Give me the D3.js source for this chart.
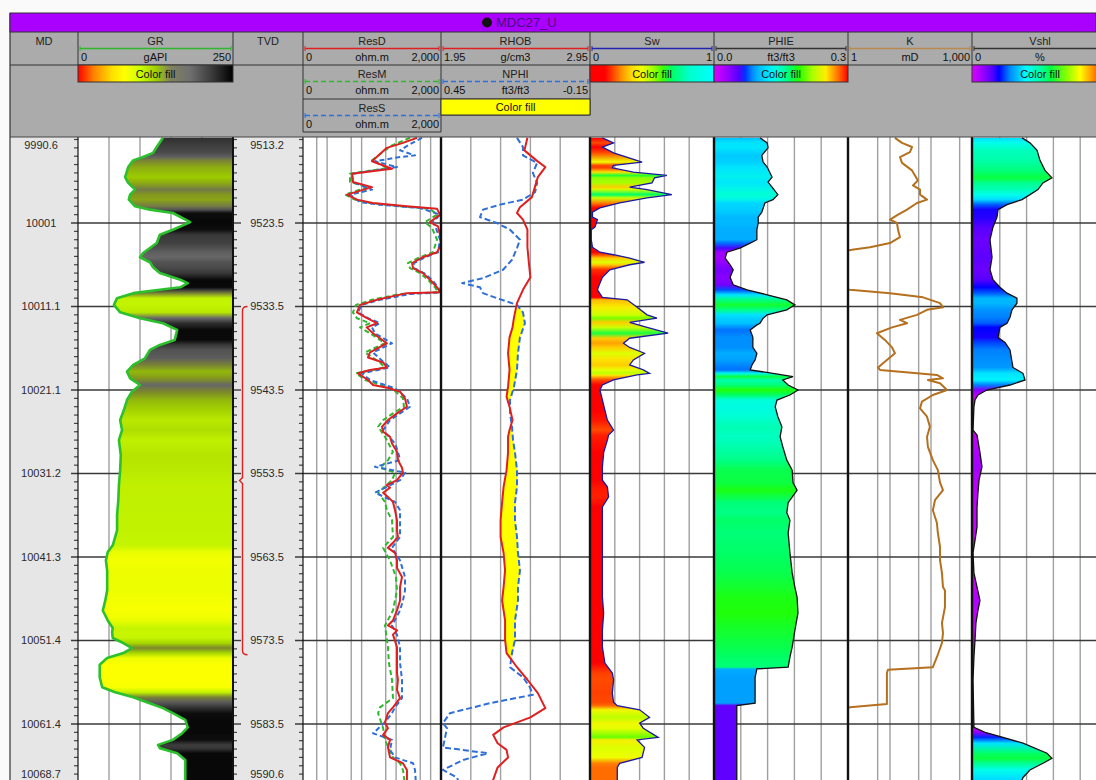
<!DOCTYPE html>
<html><head><meta charset="utf-8">
<script src="https://cdn.jsdelivr.net/npm/d3@7"></script>
<style>
html,body{margin:0;padding:0;background:#fff;}
svg{display:block;font-family:"Liberation Sans",Arial,sans-serif;}
</style></head><body>
<svg id="log" width="1096" height="780"></svg>
<script>
// ---------- well & depth reference ----------
const wellName = "MDC27_U";
const tvdTop = 9513.2, tvdBottom = 9590.6;
const tvdLabels = ["9513.2","9523.5","9533.5","9543.5","9553.5","9563.5","9573.5","9583.5","9590.6"];
const mdLabels  = ["9990.6","10001","10011.1","10021.1","10031.2","10041.3","10051.4","10061.4","10068.7"];
const zoneTop = 9533.5, zoneBottom = 9575.2;

// ---------- curves: [TVD ft, value] ----------
const grCurve = [[9513.3,137],[9514.4,127],[9515.1,121],[9515.6,105],[9516.0,89],[9516.8,81],[9518.0,76],[9518.7,81],[9519.5,92],[9520.1,84],[9520.7,82],[9521.5,92],[9521.9,116],[9522.3,153],[9523.4,181],[9524.3,153],[9524.9,132],[9525.9,127],[9527.1,105],[9527.6,100],[9528.2,116],[9528.8,121],[9529.5,132],[9530.3,165],[9530.7,177],[9531.2,165],[9531.5,132],[9531.9,89],[9532.5,63],[9533.3,58],[9534.2,68],[9534.9,100],[9535.5,137],[9536.3,160],[9537.5,156],[9538.1,132],[9538.7,116],[9539.7,108],[9540.5,89],[9541.3,79],[9542.1,84],[9542.9,100],[9543.7,87],[9544.7,79],[9545.9,74],[9547.1,68],[9548.3,71],[9549.5,66],[9551.3,69],[9553.1,68],[9554.9,66],[9556.7,65],[9558.5,63],[9560.3,63],[9562.1,56],[9562.9,48],[9563.9,45],[9565.1,47],[9566.3,47],[9567.5,47],[9568.7,44],[9569.9,40],[9571.1,48],[9572.0,56],[9572.5,55],[9573.2,56],[9573.8,73],[9574.4,87],[9575.0,73],[9575.6,47],[9576.4,35],[9577.9,35],[9579.1,39],[9579.7,60],[9580.3,89],[9580.9,111],[9581.6,137],[9582.2,153],[9583.0,173],[9583.9,177],[9584.6,168],[9585.4,153],[9586.0,129],[9586.4,132],[9587.0,160],[9587.8,173],[9589.0,173],[9590.8,173]];

const resDCurve = [[9513.3,403],[9513.9,158],[9514.5,54],[9516.1,20],[9517.0,76],[9517.6,5.3],[9518.6,5.6],[9519.2,20],[9520.1,3.8],[9520.7,7.3],[9521.1,21],[9521.5,206],[9521.8,1530],[9522.5,1870],[9523.4,960],[9523.9,1640],[9524.9,1870],[9526.1,2000],[9527.0,1530],[9527.6,600],[9528.3,290],[9528.9,310],[9529.5,600],[9530.3,960],[9531.2,1530],[9531.8,1870],[9531.9,206],[9532.7,28],[9533.3,9.0],[9534.2,7.3],[9534.9,14.3],[9535.5,28],[9536.0,14],[9536.7,21.4],[9537.9,54],[9539.0,17.5],[9539.6,15.3],[9540.2,42],[9540.8,54],[9541.1,17.5],[9541.5,7.8],[9542.3,15.3],[9542.9,21.4],[9543.3,66.5],[9543.7,130],[9544.5,181],[9545.5,206],[9546.3,106],[9547.1,58],[9547.9,39],[9548.5,42],[9549.1,66.5],[9549.9,76],[9550.9,106],[9551.9,113],[9552.8,148],[9553.4,158],[9554.3,106],[9554.9,54],[9555.2,66.5],[9555.8,42],[9556.3,58],[9556.9,81],[9557.9,93],[9559.1,106],[9560.3,106],[9561.1,113],[9561.8,81],[9562.4,58],[9563.0,93],[9563.9,106],[9564.8,106],[9565.9,148],[9567.1,130],[9568.7,130],[9569.9,106],[9571.1,81],[9571.7,58],[9572.3,106],[9572.8,81],[9574.3,106],[9576.2,106],[9577.4,106],[9578.2,113],[9579.4,106],[9580.4,130],[9581.5,81],[9582.2,58],[9583.3,47.6],[9584.0,58],[9584.8,42],[9585.4,66.5],[9586.3,58],[9587.5,66.5],[9588.2,158],[9589.0,206],[9590.8,206]];

const resMCurve = [[9513.3,253],[9514.2,76],[9514.8,47.6],[9516.0,20],[9516.9,58],[9517.6,4.6],[9518.6,4.6],[9519.2,15.3],[9520.1,3.3],[9520.7,6.4],[9521.1,17.5],[9521.5,130],[9521.8,960],[9522.5,1530],[9523.4,688],[9524.1,1100],[9525.5,1530],[9527.0,1170],[9527.6,492],[9528.3,220],[9528.9,253],[9529.5,492],[9530.3,840],[9531.2,1340],[9531.8,1640],[9532.0,130],[9532.7,20],[9533.3,6.9],[9534.2,5.6],[9534.9,7.3],[9535.5,17.5],[9536.0,9.0],[9536.7,17.5],[9537.9,47.6],[9539.0,12.5],[9540.2,34],[9540.8,47.6],[9541.5,6.9],[9542.3,12.5],[9543.3,76],[9544.5,158],[9545.5,169],[9546.3,81],[9547.1,42],[9547.9,30],[9549.1,47.6],[9550.9,81],[9551.9,58],[9552.8,34],[9553.4,93],[9554.3,76],[9555.8,30],[9556.9,47.6],[9557.9,54],[9559.1,76],[9561.1,81],[9562.4,42],[9563.9,66.5],[9565.9,99],[9567.5,106],[9569.9,81],[9571.7,47.6],[9574.3,58],[9576.2,62],[9578.2,76],[9580.4,81],[9581.5,34],[9582.2,30],[9584.0,42],[9585.4,47.6],[9587.5,81],[9588.2,130],[9589.0,158],[9590.8,181]];

const resSCurve = [[9513.3,563],[9514.2,220],[9514.8,130],[9515.4,353],[9515.6,130],[9516.1,24.4],[9516.8,106],[9517.6,5.3],[9518.6,5.6],[9519.5,20],[9520.1,4.6],[9521.0,9.0],[9521.3,34],[9521.7,492],[9522.5,1870],[9523.4,1170],[9524.1,1430],[9525.5,1870],[9527.0,1640],[9527.6,688],[9528.3,331],[9528.9,331],[9529.5,643],[9530.3,1100],[9531.2,1640],[9531.8,2000],[9532.0,253],[9532.7,34],[9533.3,10.2],[9534.2,7.8],[9534.9,15.3],[9535.5,34],[9536.0,20],[9536.7,24.4],[9537.9,76],[9539.0,21.4],[9540.2,44.5],[9540.8,66.5],[9541.5,10.2],[9542.3,17.5],[9543.3,93],[9544.5,206],[9545.5,253],[9546.3,130],[9547.1,66.5],[9548.3,42],[9549.9,93],[9550.9,113],[9551.9,130],[9552.7,24.4],[9553.4,181],[9554.3,130],[9555.8,24.4],[9556.9,93],[9557.9,130],[9559.1,130],[9561.1,130],[9562.4,76],[9563.9,130],[9565.9,181],[9567.5,181],[9568.7,158],[9569.9,130],[9571.7,76],[9572.8,106],[9574.3,130],[9576.2,130],[9578.2,148],[9580.4,148],[9581.5,93],[9582.2,76],[9583.3,47.6],[9584.6,21.4],[9585.4,76],[9586.6,66.5],[9587.5,93],[9588.2,310],[9589.0,353],[9590.8,378]];

const rhobCurve = [[9513.3,2.53],[9514.8,2.51],[9516.0,2.59],[9516.8,2.65],[9518.0,2.60],[9519.2,2.58],[9520.4,2.56],[9521.6,2.48],[9522.3,2.46],[9523.1,2.50],[9524.3,2.53],[9526.4,2.53],[9528.3,2.54],[9530.0,2.55],[9531.5,2.50],[9533.1,2.46],[9534.8,2.44],[9536.0,2.43],[9537.2,2.41],[9539.1,2.40],[9541.1,2.41],[9543.1,2.40],[9544.3,2.39],[9545.5,2.41],[9547.1,2.43],[9548.3,2.41],[9549.1,2.40],[9551.0,2.40],[9553.1,2.39],[9555.1,2.37],[9557.0,2.36],[9559.1,2.35],[9561.1,2.35],[9563.0,2.37],[9565.1,2.38],[9567.1,2.37],[9568.7,2.36],[9571.1,2.38],[9573.4,2.38],[9575.0,2.39],[9576.7,2.46],[9578.2,2.53],[9579.8,2.60],[9581.6,2.65],[9582.7,2.55],[9583.9,2.37],[9584.8,2.30],[9585.8,2.33],[9586.6,2.39],[9587.5,2.40],[9588.7,2.33],[9590.2,2.30],[9590.8,2.29]];

const nphiCurve = [[9513.3,0.144],[9514.4,0.120],[9515.4,0.120],[9516.3,0.063],[9517.5,0.080],[9518.7,0.063],[9519.8,0.071],[9520.7,0.120],[9521.3,0.212],[9521.9,0.281],[9522.8,0.293],[9523.5,0.225],[9524.3,0.172],[9525.5,0.132],[9526.5,0.144],[9527.9,0.164],[9529.1,0.200],[9530.1,0.281],[9530.7,0.365],[9531.2,0.293],[9531.9,0.281],[9532.5,0.225],[9533.3,0.144],[9534.2,0.120],[9535.5,0.112],[9537.2,0.132],[9539.1,0.140],[9541.1,0.144],[9543.1,0.156],[9544.7,0.172],[9546.3,0.172],[9547.9,0.164],[9549.5,0.160],[9551.0,0.152],[9553.1,0.144],[9555.1,0.144],[9557.0,0.152],[9559.1,0.152],[9561.1,0.144],[9563.0,0.140],[9565.1,0.132],[9567.1,0.140],[9568.7,0.140],[9571.1,0.152],[9573.4,0.152],[9575.0,0.164],[9576.7,0.172],[9577.9,0.120],[9579.1,0.092],[9580.0,0.080],[9581.0,0.253],[9582.2,0.414],[9583.4,0.442],[9584.0,0.426],[9586.3,0.442],[9587.0,0.261],[9587.8,0.361],[9589.0,0.442],[9589.9,0.386],[9590.8,0.374]];

const swCurve = [[9513.3,0.10],[9513.9,0.19],[9514.4,0.10],[9515.1,0.19],[9516.2,0.42],[9516.6,0.19],[9516.9,0.18],[9517.4,0.35],[9517.8,0.62],[9518.1,0.52],[9518.7,0.50],[9519.2,0.32],[9519.5,0.46],[9520.1,0.66],[9520.5,0.46],[9521.1,0.24],[9521.7,0.08],[9522.2,0.02],[9522.8,0.02],[9523.1,0.06],[9524.0,0.04],[9524.3,0.01],[9525.5,0.01],[9526.4,0.02],[9527.0,0.08],[9527.3,0.19],[9527.7,0.32],[9528.2,0.44],[9528.5,0.32],[9529.1,0.16],[9530.0,0.10],[9530.7,0.08],[9531.5,0.06],[9532.4,0.10],[9532.7,0.30],[9533.6,0.38],[9534.5,0.46],[9534.9,0.54],[9535.4,0.32],[9536.0,0.46],[9536.7,0.63],[9537.3,0.32],[9537.9,0.27],[9538.4,0.32],[9539.1,0.44],[9539.9,0.35],[9540.5,0.32],[9541.1,0.43],[9541.5,0.48],[9541.7,0.38],[9542.3,0.19],[9542.9,0.10],[9543.5,0.08],[9544.7,0.10],[9545.9,0.12],[9547.1,0.14],[9548.3,0.19],[9548.9,0.15],[9549.5,0.14],[9551.0,0.11],[9552.7,0.10],[9554.3,0.10],[9555.1,0.14],[9556.3,0.15],[9557.5,0.10],[9559.1,0.10],[9561.1,0.10],[9563.0,0.10],[9565.1,0.10],[9567.1,0.10],[9568.3,0.10],[9570.2,0.11],[9572.3,0.10],[9574.3,0.10],[9576.2,0.12],[9577.4,0.18],[9578.2,0.19],[9579.8,0.18],[9580.9,0.19],[9581.3,0.22],[9581.8,0.40],[9582.7,0.48],[9583.4,0.40],[9584.0,0.43],[9585.1,0.55],[9585.4,0.38],[9586.3,0.44],[9587.5,0.42],[9588.2,0.24],[9588.7,0.22],[9590.8,0.22]];

const phieCurve = [[9513.3,0.103],[9513.9,0.119],[9514.5,0.121],[9515.4,0.107],[9516.2,0.110],[9516.8,0.119],[9518.0,0.130],[9518.6,0.121],[9519.2,0.130],[9520.1,0.143],[9520.7,0.132],[9521.1,0.114],[9522.2,0.107],[9522.8,0.099],[9523.5,0.099],[9524.3,0.096],[9525.5,0.096],[9525.9,0.081],[9526.5,0.058],[9527.0,0.029],[9527.7,0.025],[9528.5,0.036],[9529.1,0.043],[9530.0,0.036],[9530.9,0.043],[9531.5,0.074],[9532.1,0.119],[9532.7,0.163],[9533.3,0.181],[9533.9,0.163],[9534.5,0.119],[9534.9,0.110],[9535.5,0.103],[9535.7,0.096],[9536.3,0.081],[9537.2,0.087],[9538.4,0.087],[9539.1,0.096],[9539.9,0.092],[9540.5,0.085],[9541.1,0.081],[9541.5,0.132],[9541.9,0.177],[9542.3,0.154],[9542.9,0.166],[9543.5,0.188],[9544.1,0.170],[9544.7,0.141],[9545.5,0.137],[9546.7,0.143],[9547.9,0.152],[9549.1,0.148],[9550.3,0.154],[9551.9,0.163],[9553.1,0.175],[9554.6,0.177],[9555.5,0.186],[9557.0,0.166],[9558.2,0.163],[9559.1,0.170],[9560.6,0.166],[9563.0,0.170],[9565.4,0.175],[9567.1,0.181],[9568.3,0.186],[9570.2,0.188],[9572.3,0.181],[9574.3,0.175],[9575.5,0.170],[9576.7,0.166],[9576.9,0.096],[9577.9,0.092],[9581.0,0.092],[9581.3,0.051],[9582.2,0.051],[9590.8,0.051]];

const kCurve = [[9513.3,13.2],[9513.9,19.6],[9514.4,34.4],[9515.0,30.6],[9515.6,17.5],[9516.3,19.6],[9517.2,34.4],[9518.4,48],[9519.0,36.4],[9519.5,54],[9520.1,54],[9520.7,80],[9521.1,45.5],[9521.9,26],[9522.5,15.7],[9523.1,10],[9523.5,14.8],[9524.3,15.7],[9525.2,17.5],[9525.9,10],[9526.4,3.25],[9526.7,1.18],[9527.0,0.5],[9531.3,0.5],[9531.5,1.06],[9531.9,10],[9532.4,64],[9533.1,166],[9533.6,196],[9533.9,80],[9534.5,45.5],[9535.1,17.5],[9535.5,26],[9536.0,11.2],[9536.7,4.8],[9537.5,7.5],[9538.4,11.2],[9539.1,13.2],[9539.9,8.4],[9540.8,5.1],[9541.1,5.7],[9541.3,17.5],[9541.7,139],[9542.1,196],[9542.3,84],[9542.7,166],[9543.5,246],[9544.1,111],[9544.9,60],[9545.7,54],[9546.7,80],[9547.9,94],[9549.1,80],[9550.3,84],[9551.9,111],[9553.1,147],[9554.6,166],[9555.5,196],[9556.7,125],[9557.9,111],[9559.4,139],[9560.6,147],[9562.3,166],[9563.9,166],[9565.4,185],[9567.1,196],[9567.5,219],[9569.5,219],[9571.4,185],[9572.6,196],[9573.8,185],[9575.5,139],[9576.7,111],[9577.0,8.9],[9577.4,8.4],[9581.1,8.4],[9581.5,1.06],[9581.7,0.5],[9590.8,0.5]];

const vshCurve = [[9513.3,36.6],[9513.9,42.5],[9514.8,47.8],[9516.0,50.0],[9517.2,53.7],[9518.1,58.9],[9518.7,52.2],[9519.5,48.5],[9520.1,42.5],[9520.7,36.6],[9521.3,25.4],[9521.9,18.7],[9522.8,17.9],[9524.0,14.9],[9525.5,12.7],[9527.6,14.2],[9529.1,12.7],[9530.3,14.9],[9531.2,20.1],[9531.9,25.4],[9532.5,32.8],[9533.1,32.8],[9533.9,29.1],[9534.8,27.6],[9535.5,25.4],[9536.0,20.1],[9537.2,18.7],[9537.8,23.9],[9538.7,27.6],[9540.8,29.8],[9541.5,37.3],[9542.3,38.8],[9542.9,27.6],[9543.5,10.4],[9544.1,3.7],[9544.7,1.5],[9545.5,0.7],[9548.3,0],[9548.9,3.0],[9551.0,5.2],[9552.7,6.7],[9554.3,4.5],[9555.8,3.7],[9557.5,3.0],[9559.9,3.0],[9561.5,1.5],[9563.0,0],[9565.4,0.7],[9567.1,3.0],[9568.7,5.2],[9569.9,3.7],[9571.4,2.2],[9573.4,1.5],[9575.5,0.7],[9578.2,0],[9583.9,0.7],[9584.5,9.0],[9585.1,22.4],[9585.8,37.3],[9587.0,55.2],[9587.6,58.9],[9588.2,52.2],[9589.0,42.5],[9589.9,37.3],[9590.8,35.1]];

// ---------- header text ----------
const trackTitles = ["MD","TVD"];
const curveHeaders = [
  {key:"gr",   name:"GR",   lo:"0",    unit:"gAPI",   hi:"250",   color:"#2eb82e", dash:null},
  {key:"resD", name:"ResD", lo:"0",    unit:"ohm.m",  hi:"2,000", color:"#e02020", dash:null},
  {key:"resM", name:"ResM", lo:"0",    unit:"ohm.m",  hi:"2,000", color:"#2eb82e", dash:"5,3"},
  {key:"resS", name:"ResS", lo:"0",    unit:"ohm.m",  hi:"2,000", color:"#2f6fd8", dash:"5,3"},
  {key:"rhob", name:"RHOB", lo:"1.95", unit:"g/cm3",  hi:"2.95",  color:"#e02020", dash:null},
  {key:"nphi", name:"NPHI", lo:"0.45", unit:"ft3/ft3",hi:"-0.15", color:"#2f6fd8", dash:"5,3"},
  {key:"sw",   name:"Sw",   lo:"0",    unit:"",       hi:"1",     color:"#2323b0", dash:null},
  {key:"phie", name:"PHIE", lo:"0.0",  unit:"ft3/ft3",hi:"0.3",   color:"#333333", dash:null},
  {key:"k",    name:"K",    lo:"1",    unit:"mD",     hi:"1,000", color:"#b88a50", dash:null},
  {key:"vsh",  name:"Vshl", lo:"0",    unit:"%",      hi:"",      color:"#333333", dash:null}
];
const fillLabel = "Color fill";

// ---------- colour ramps for the fills ----------
const grRamp   = {stops:[0,10,22,32,46,56,66,76,86,98,115,135,155,250],
  colors:["#ff0000","#ff7f00","#ffe600","#ffff00","#f2ff00","#c4f500","#c0f000","#9ccc00","#7d8a25","#696969","#555555","#333333","#0a0a0a","#000000"]};
const grLegendRamp = {stops:[0,0.1,0.22,0.3,0.4,0.5,0.6,0.72,0.85,1],
  colors:["#ff0000","#ff8000","#ffe000","#ffff00","#ccff00","#a0d000","#808060","#707070","#404040","#000000"]};
const swRamp   = {stops:[0,0.12,0.2,0.26,0.34,0.42,0.5,0.58,0.66,0.8,1],
  colors:["#ff0000","#ff0000","#ff5500","#ff9900","#ffdd00","#eeff00","#aaff00","#44ff00","#00ff66","#00ffcc","#00ffff"]};
const phieRamp = {stops:[0,0.03,0.055,0.07,0.085,0.1,0.12,0.14,0.155,0.17,0.19,0.22,0.25,0.28,0.3],
  colors:["#dd00ff","#9900ff","#5500ff","#0033ff","#0088ff","#00bbff","#00e5ff","#00ffdd","#00ffaa","#00ff66","#22ff00","#aaff00","#ffee00","#ff6600","#ff0000"]};
const vshRamp  = {stops:[0,8,15,20,28,35,40,50,58,70,80,90,100],
  colors:["#dd00ff","#9900ff","#5500ff","#0000ff","#0088ff","#00ccff","#00ffff","#00ffaa","#00ff44","#88ff00","#ffff00","#ff8800","#ff0000"]};

// ---------- layout ----------
const W = 1096, H = 780;
const col = {md:[10,78], gr:[78,233], tvd:[233,303], res:[303,441], den:[441,590],
             sw:[590,714], phie:[714,848], k:[848,972], vsh:[972,1107]};
const yTop = 137, yBot = 783.3;

const svg = d3.select("#log");
const defs = svg.append("defs");

const y     = d3.scaleLinear().domain([tvdTop, tvdBottom]).range([yTop, yBot]);
const xGR   = d3.scaleLinear().domain([0,250]).range(col.gr);
const xRes  = d3.scaleLog().domain([0.2,2000]).range(col.res);
const xRHOB = d3.scaleLinear().domain([1.95,2.95]).range(col.den);
const xNPHI = d3.scaleLinear().domain([0.45,-0.15]).range(col.den);
const xSw   = d3.scaleLinear().domain([0,1]).range(col.sw);
const xPHIE = d3.scaleLinear().domain([0,0.3]).range(col.phie);
const xK    = d3.scaleLog().domain([1,1000]).range([849,972]);
const xVsh  = d3.scaleLinear().domain([0,100]).range([973,1107]);

const ramp = r => d3.scaleLinear().domain(r.stops).range(r.colors).clamp(true);
const grColor = ramp(grRamp), swColor = ramp(swRamp), phieColor = ramp(phieRamp), vshColor = ramp(vshRamp);

// ---------- backgrounds ----------
svg.append("rect").attr("width",W).attr("height",H).attr("fill","#fafafa");
svg.append("rect").attr("x",10).attr("y",32).attr("width",W-10).attr("height",yTop-32).attr("fill","#ababab");
svg.append("rect").attr("x",10).attr("y",yTop).attr("width",W-10).attr("height",H-yTop).attr("fill","#ffffff");
[col.md, col.tvd].forEach(c => svg.append("rect").attr("x",c[0]).attr("y",yTop)
  .attr("width",c[1]-c[0]).attr("height",H-yTop).attr("fill","#e6e6e6"));

function clipFor(id, c) {
  defs.append("clipPath").attr("id",id).append("rect")
    .attr("x",c[0]).attr("y",yTop).attr("width",c[1]-c[0]).attr("height",yBot-yTop);
  return "url(#"+id+")";
}

// ---------- vertical grid ----------
const grid = svg.append("g").attr("stroke","#a0a0a0").attr("stroke-width",1.4);
function vlines(scale, vals) {
  vals.forEach(v => grid.append("line").attr("x1",scale(v)).attr("x2",scale(v))
    .attr("y1",yTop).attr("y2",H));
}
vlines(xGR,[50,100,150,200]);
vlines(xRes,[0.5,1,5,10,50,100,500,1000]);
vlines(xRHOB,[2.15,2.35,2.55,2.75]);
vlines(xSw,[0.2,0.4,0.6,0.8]);
vlines(xPHIE,[0.06,0.12,0.18,0.24]);
vlines(xK,[5,10,50,100,500]);
vlines(xVsh,[20,40,60,80]);

// ---------- depth grid & ticks ----------
const tvdMarks = tvdLabels.map(Number);
const majors = tvdMarks.slice(1,-1);
const hg = svg.append("g").attr("stroke","#3a3a3a").attr("stroke-width",1.4);
majors.forEach(d => {
  hg.append("line").attr("x1",71).attr("x2",col.gr[1]).attr("y1",y(d)).attr("y2",y(d));
  hg.append("line").attr("x1",col.tvd[0]).attr("x2",241).attr("y1",y(d)).attr("y2",y(d));
  hg.append("line").attr("x1",295).attr("x2",W).attr("y1",y(d)).attr("y2",y(d));
});
const tk = svg.append("g").attr("stroke","#444").attr("stroke-width",1.2);
d3.range(tvdTop+0.3, tvdBottom, 1).forEach(d => {
  if (majors.some(m => Math.abs(m-d) < 0.05)) return;
  const yy = y(d);
  tk.append("line").attr("x1",74).attr("x2",78).attr("y1",yy).attr("y2",yy);
  tk.append("line").attr("x1",233).attr("x2",237).attr("y1",yy).attr("y2",yy);
  tk.append("line").attr("x1",299).attr("x2",303).attr("y1",yy).attr("y2",yy);
});
function depthLabelY(i) {
  if (i === 0) return y(tvdMarks[0]) + 8;
  if (i === tvdMarks.length-1) return 774;
  return y(tvdMarks[i]);
}
mdLabels.forEach((t,i) => svg.append("text").attr("x",41).attr("y",depthLabelY(i)).attr("dy","0.35em")
  .attr("text-anchor","middle").attr("font-size",11).attr("fill","#2a2a2a").text(t));
tvdLabels.forEach((t,i) => svg.append("text").attr("x",267).attr("y",depthLabelY(i)).attr("dy","0.35em")
  .attr("text-anchor","middle").attr("font-size",11).attr("fill","#2a2a2a").text(t));

// zone bracket in the TVD column
{
  const bx = 242.5, yt = y(zoneTop), yb = y(zoneBottom), ym = (yt+yb)/2;
  svg.append("path").attr("fill","none").attr("stroke","#e02020").attr("stroke-width",1.4)
    .attr("d",`M${bx+5},${yt} Q${bx},${yt} ${bx},${yt+4} V${ym-3} L${bx-3},${ym} L${bx},${ym+3} V${yb-4} Q${bx},${yb} ${bx+5},${yb}`);
}

// ---------- colour fills ----------
function verticalGradient(id, pts, colorFn) {
  const g = defs.append("linearGradient").attr("id",id).attr("gradientUnits","userSpaceOnUse")
    .attr("x1",0).attr("x2",0).attr("y1",yTop).attr("y2",yBot);
  pts.forEach(p => g.append("stop").attr("offset",(y(p[0])-yTop)/(yBot-yTop)).attr("stop-color",colorFn(p[1])));
  return "url(#"+id+")";
}

// GR: fill from curve to right edge
svg.append("path").datum(grCurve).attr("clip-path",clipFor("cGR",col.gr))
  .attr("fill",verticalGradient("gGR",grCurve,grColor))
  .attr("d",d3.area().y(d=>y(d[0])).x0(d=>xGR(d[1])).x1(col.gr[1]));

// density-neutron crossover
function interp(pts, d) {
  const i = d3.bisector(p=>p[0]).left(pts, d);
  if (i <= 0) return pts[0][1];
  if (i >= pts.length) return pts[pts.length-1][1];
  const a = pts[i-1], b = pts[i];
  return a[1] + (b[1]-a[1])*(d-a[0])/(b[0]-a[0]);
}
const xover = d3.range(9513.3, 9590.8, 0.05).map(d => [d, interp(rhobCurve,d), interp(nphiCurve,d)]);
svg.append("path").datum(xover).attr("clip-path",clipFor("cDen",col.den)).attr("fill","#ffff00")
  .attr("d",d3.area().y(d=>y(d[0])).x0(d=>xRHOB(d[1])).x1(d=>Math.max(xRHOB(d[1]),xNPHI(d[2]))));

// Sw, PHIE, Vshl: fill from the left edge to the curve
[[swCurve,xSw,swColor,"Sw",col.sw,"#1a1aa0"],
 [phieCurve,xPHIE,phieColor,"Phie",col.phie,"#111"],
 [vshCurve,xVsh,vshColor,"Vsh",col.vsh,"#111"]].forEach(([pts,sx,cf,id,c,stroke]) => {
  const clip = clipFor("c"+id,c);
  svg.append("path").datum(pts).attr("clip-path",clip)
    .attr("fill",verticalGradient("g"+id,pts,cf))
    .attr("d",d3.area().y(d=>y(d[0])).x0(c[0]).x1(d=>sx(d[1])));
  svg.append("path").datum(pts).attr("clip-path",clip).attr("fill","none")
    .attr("stroke",stroke).attr("stroke-width",1.3)
    .attr("d",d3.line().y(d=>y(d[0])).x(d=>sx(d[1])));
});

// ---------- curves ----------
function curve(pts, sx, clip, color, width, dash) {
  svg.append("path").datum(pts).attr("clip-path",clip).attr("fill","none")
    .attr("stroke",color).attr("stroke-width",width).attr("stroke-dasharray",dash)
    .attr("stroke-linejoin","round")
    .attr("d",d3.line().y(d=>y(d[0])).x(d=>sx(d[1])));
}
const resClip = clipFor("cRes",col.res);
curve(grCurve, xGR, "url(#cGR)", "#2cc02c", 2.6, null);
curve(resMCurve, xRes, resClip, "#2eb82e", 2, "5,3");
curve(resSCurve, xRes, resClip, "#2f6fd8", 2, "5,3");
curve(resDCurve, xRes, resClip, "#e02020", 2, null);
curve(nphiCurve, xNPHI, "url(#cDen)", "#2f6fd8", 2, "6,3");
curve(rhobCurve, xRHOB, "url(#cDen)", "#e02020", 2, null);
curve(kCurve, xK, clipFor("cK",[849,972]), "#b5701e", 2, null);

// ---------- track borders ----------
const tb = svg.append("g").attr("stroke","#111");
[[78,1.2],[233,2],[303,1.2],[441,2.4],[590,2.4],[714,2.4],[848,2.4],[972,2.4]].forEach(([x,w]) =>
  tb.append("line").attr("x1",x).attr("x2",x).attr("y1",yTop).attr("y2",H).attr("stroke-width",w));
svg.append("line").attr("x1",10).attr("x2",W).attr("y1",yTop).attr("y2",yTop).attr("stroke","#444").attr("stroke-width",1.2);
svg.append("line").attr("x1",10).attr("x2",10).attr("y1",13).attr("y2",H).attr("stroke","#333").attr("stroke-width",1.2);

// ---------- title bar ----------
svg.append("rect").attr("x",10).attr("y",13).attr("width",W-10).attr("height",19)
  .attr("fill","#aa00ff").attr("stroke","#333").attr("stroke-width",1);
svg.append("circle").attr("cx",487).attr("cy",22.5).attr("r",5).attr("fill","#111");
svg.append("text").attr("x",496).attr("y",27).attr("font-size",13).attr("fill","#4a0a80").text(wellName);

// ---------- header ----------
const hd = svg.append("g");
const hdLine = (x1,y1,x2,y2) => hd.append("line").attr("x1",x1).attr("y1",y1).attr("x2",x2).attr("y2",y2)
  .attr("stroke","#333").attr("stroke-width",1);
hdLine(10,65,W,65);
[78,233,303,441,590,714,848,972].forEach(x => hdLine(x,32,x,65));
hdLine(303,65,303,132); hdLine(441,65,441,132);
hdLine(303,99,590,99); hdLine(303,132,441,132);
hdLine(441,115,590,115); hdLine(590,65,590,115);

hd.append("text").attr("x",44).attr("y",45).attr("text-anchor","middle").attr("font-size",11).attr("fill","#222").text(trackTitles[0]);
hd.append("text").attr("x",268).attr("y",45).attr("text-anchor","middle").attr("font-size",11).attr("fill","#222").text(trackTitles[1]);

const headerPos = {gr:[78,233,32], resD:[303,441,32], resM:[303,441,65], resS:[303,441,99],
  rhob:[441,590,32], nphi:[441,590,65], sw:[590,714,32], phie:[714,848,32], k:[848,972,32], vsh:[972,1107,32]};
curveHeaders.forEach(h => {
  const [x0,x1,t] = headerPos[h.key];
  const mid = h.key === "vsh" ? 1040 : (x0+x1)/2;
  hd.append("text").attr("x",mid).attr("y",t+13).attr("text-anchor","middle").attr("font-size",11).attr("fill","#222").text(h.name);
  hd.append("line").attr("x1",x0+2).attr("x2",x1-2).attr("y1",t+16.5).attr("y2",t+16.5)
    .attr("stroke",h.color).attr("stroke-width",1.4).attr("stroke-dasharray",h.dash);
  [x0+2,x1-2].forEach(x => hd.append("line").attr("x1",x).attr("x2",x).attr("y1",t+14).attr("y2",t+19)
    .attr("stroke",h.color).attr("stroke-width",1));
  hd.append("text").attr("x",x0+3).attr("y",t+29).attr("font-size",11).attr("fill","#111").text(h.lo);
  hd.append("text").attr("x",mid).attr("y",t+29).attr("text-anchor","middle").attr("font-size",11).attr("fill","#111").text(h.unit);
  if (h.hi) hd.append("text").attr("x",x1-2).attr("y",t+29).attr("text-anchor","end").attr("font-size",11).attr("fill","#111").text(h.hi);
});

// colour-fill legend bars
function legend(id, x0, x1, y0, y1, rampDef, dmax, fillColor) {
  let fill = fillColor;
  if (!fillColor) {
    const g = defs.append("linearGradient").attr("id",id).attr("x1",0).attr("x2",1).attr("y1",0).attr("y2",0);
    rampDef.stops.forEach((s,i) => g.append("stop").attr("offset",s/dmax).attr("stop-color",rampDef.colors[i]));
    fill = "url(#"+id+")";
  }
  hd.append("rect").attr("x",x0).attr("y",y0).attr("width",x1-x0).attr("height",y1-y0)
    .attr("fill",fill).attr("stroke","#333").attr("stroke-width",1);
  const mid = id === "lgVsh" ? 1040 : (x0+x1)/2;
  hd.append("text").attr("x",mid).attr("y",y1-4).attr("text-anchor","middle").attr("font-size",11)
    .attr("fill","#111").text(fillLabel);
}
legend("lgGR",78,233,65,82,grLegendRamp,1);
legend("lgSw",590,714,65,82,swRamp,1);
legend("lgPhie",714,848,65,82,phieRamp,0.3);
legend("lgVsh",972,1107,65,82,vshRamp,100);
legend("lgDen",441,590,99,115,null,1,"#ffff00");
</script>
</body></html>
